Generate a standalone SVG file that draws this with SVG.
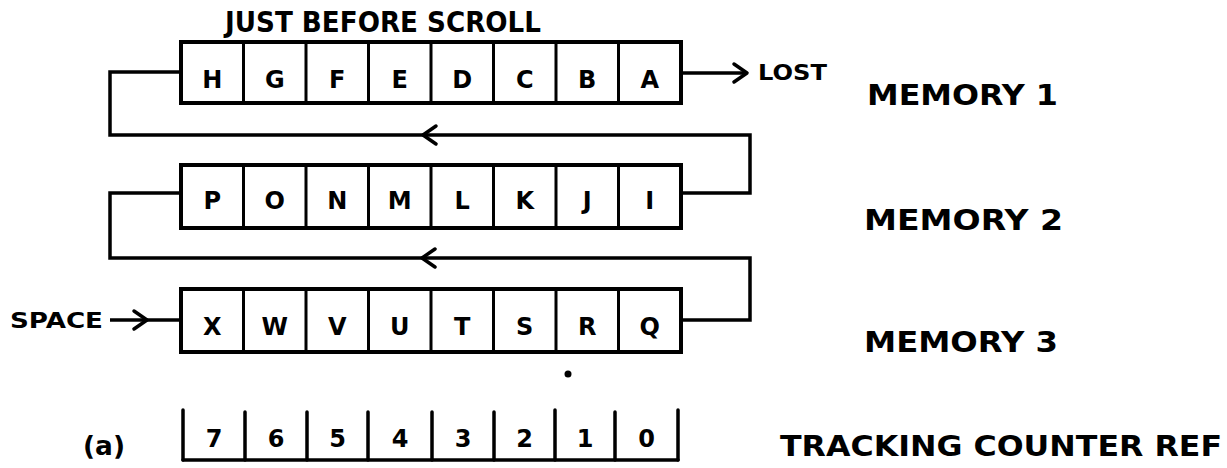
<svg xmlns="http://www.w3.org/2000/svg" width="1227" height="468" viewBox="0 0 1227 468">
<defs>
<marker id="chev" markerUnits="userSpaceOnUse" markerWidth="30" markerHeight="30" refX="0" refY="0" orient="auto" overflow="visible">
<path d="M-13,-9 L0,0 L-13,9" fill="none" stroke="#000" stroke-width="3.5" stroke-linecap="round" stroke-linejoin="round"/>
</marker>
</defs>
<style>
text{font-family:"DejaVu Sans","Liberation Sans",Arial,sans-serif;font-weight:bold;fill:#000}
.cell{fill:#fff;stroke:#000;stroke-width:3}
.box{fill:none;stroke:#000;stroke-width:4}
.ch{font-size:24px;text-anchor:middle}
.lbl{font-size:28px}
.wire{fill:none;stroke:#000;stroke-width:3.5;stroke-linejoin:miter}
.bar{stroke:#000;stroke-width:3.5;stroke-linecap:round;fill:none}
</style>
<rect width="1227" height="468" fill="#fff"/>

<text id="title" class="lbl" x="225" y="32" textLength="316" lengthAdjust="spacingAndGlyphs">JUST BEFORE SCROLL</text>

<g id="memory1">
<rect class="cell" x="181" y="42" width="500" height="61"/>
<path class="cell" d="M243.5,42V103M306,42V103M368.5,42V103M431,42V103M493.5,42V103M556,42V103M618.5,42V103"/>
<rect class="box" x="181" y="42" width="500" height="61"/>
<g id="m1-H"><text class="ch" x="212.25" y="88">H</text></g>
<g id="m1-G"><text class="ch" x="274.75" y="88">G</text></g>
<g id="m1-F"><text class="ch" x="337.25" y="88">F</text></g>
<g id="m1-E"><text class="ch" x="399.75" y="88">E</text></g>
<g id="m1-D"><text class="ch" x="462.25" y="88">D</text></g>
<g id="m1-C"><text class="ch" x="524.75" y="88">C</text></g>
<g id="m1-B"><text class="ch" x="587.25" y="88">B</text></g>
<g id="m1-A"><text class="ch" x="649.75" y="88">A</text></g>
</g>

<g id="memory2">
<rect class="cell" x="181" y="165" width="500" height="63"/>
<path class="cell" d="M243.5,165V228M306,165V228M368.5,165V228M431,165V228M493.5,165V228M556,165V228M618.5,165V228"/>
<rect class="box" x="181" y="165" width="500" height="63"/>
<g id="m2-P"><text class="ch" x="212.25" y="209">P</text></g>
<g id="m2-O"><text class="ch" x="274.75" y="209">O</text></g>
<g id="m2-N"><text class="ch" x="337.25" y="209">N</text></g>
<g id="m2-M"><text class="ch" x="399.75" y="209">M</text></g>
<g id="m2-L"><text class="ch" x="462.25" y="209">L</text></g>
<g id="m2-K"><text class="ch" x="524.75" y="209">K</text></g>
<g id="m2-J"><text class="ch" x="587.25" y="209">J</text></g>
<g id="m2-I"><text class="ch" x="649.75" y="209">I</text></g>
</g>

<g id="memory3">
<rect class="cell" x="181" y="289" width="500" height="63"/>
<path class="cell" d="M243.5,289V352M306,289V352M368.5,289V352M431,289V352M493.5,289V352M556,289V352M618.5,289V352"/>
<rect class="box" x="181" y="289" width="500" height="63"/>
<g id="m3-X"><text class="ch" x="212.25" y="335">X</text></g>
<g id="m3-W"><text class="ch" x="274.75" y="335">W</text></g>
<g id="m3-V"><text class="ch" x="337.25" y="335">V</text></g>
<g id="m3-U"><text class="ch" x="399.75" y="335">U</text></g>
<g id="m3-T"><text class="ch" x="462.25" y="335">T</text></g>
<g id="m3-S"><text class="ch" x="524.75" y="335">S</text></g>
<g id="m3-R"><text class="ch" x="587.25" y="335">R</text></g>
<g id="m3-Q"><text class="ch" x="649.75" y="335">Q</text></g>
</g>

<g id="connectors">
<path class="wire" d="M681,73 H747" marker-end="url(#chev)"/>
<path class="wire" d="M681,193 H750 V135 H423" marker-end="url(#chev)"/>
<path class="wire" d="M423,135 H110 V72 H181"/>
<path class="wire" d="M681,320 H750 V258 H422" marker-end="url(#chev)"/>
<path class="wire" d="M422,258 H110 V193 H181"/>
<path class="wire" d="M110,320 H147" marker-end="url(#chev)"/>
<path class="wire" d="M147,320 H181"/>
</g>

<g id="lost"><text x="758" y="80" font-size="22" textLength="69" lengthAdjust="spacingAndGlyphs">LOST</text></g>
<g id="space"><text x="10" y="328" font-size="22" textLength="93" lengthAdjust="spacingAndGlyphs">SPACE</text></g>

<g id="label-memory1"><text class="lbl" x="867" y="105" textLength="191" lengthAdjust="spacingAndGlyphs">MEMORY 1</text></g>
<g id="label-memory2"><text class="lbl" x="864" y="230" textLength="199" lengthAdjust="spacingAndGlyphs">MEMORY 2</text></g>
<g id="label-memory3"><text class="lbl" x="864" y="352" textLength="194" lengthAdjust="spacingAndGlyphs">MEMORY 3</text></g>

<circle cx="568" cy="374" r="3.5" fill="#000"/>

<g id="tracking-counter">
<path class="bar" d="M183,410V460M245,412V460M307,412V460M368,412V460M432,412V460M494,412V460M555,410V460M615,412V460M678,410V460"/>
<path class="bar" d="M183,460H678" stroke-linecap="butt"/>
<text class="ch" x="214" y="447">7</text>
<text class="ch" x="276" y="447">6</text>
<text class="ch" x="337.5" y="447">5</text>
<text class="ch" x="400" y="447">4</text>
<text class="ch" x="463" y="447">3</text>
<text class="ch" x="524.5" y="447">2</text>
<text class="ch" x="585" y="447">1</text>
<text class="ch" x="646.5" y="447">0</text>
</g>

<g id="label-a"><text x="83" y="455" font-size="26" textLength="42" lengthAdjust="spacingAndGlyphs">(a)</text></g>
<g id="label-tracking"><text class="lbl" x="780" y="456" textLength="442" lengthAdjust="spacingAndGlyphs">TRACKING COUNTER REF</text></g>
</svg>
